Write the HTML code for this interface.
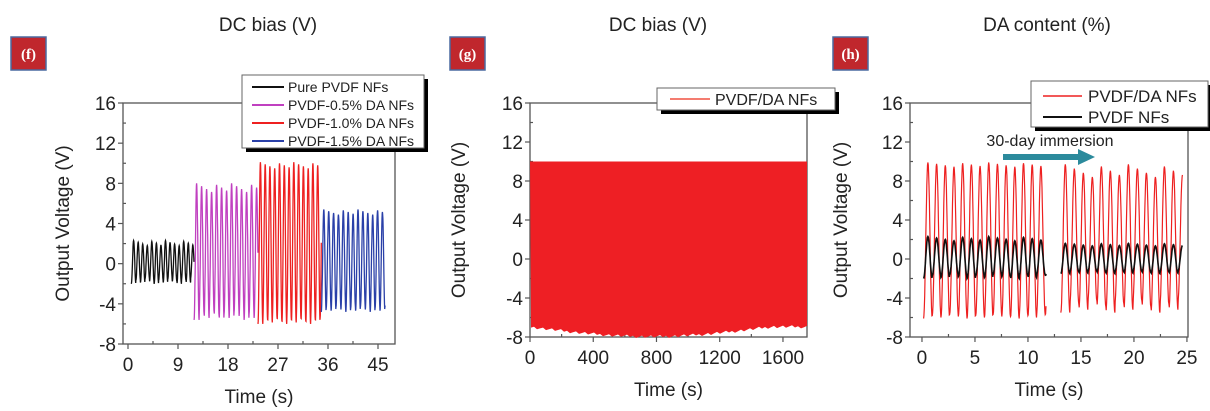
<!DOCTYPE html>
<html><head><meta charset="utf-8"><style>
html,body{margin:0;padding:0;background:#fff;}
svg{display:block;font-family:"Liberation Sans",Arial,sans-serif;}
.t{font-size:19px;fill:#222;}
.lab{font-family:"Liberation Serif",serif;font-weight:bold;font-size:15px;fill:#fff;}
</style></head><body>
<svg id="s" width="1210" height="411" viewBox="0 0 1210 411" xmlns="http://www.w3.org/2000/svg">
<text x="268" y="31" class="t" text-anchor="middle" font-size="21">DC bias (V)</text>
<text x="658" y="31" class="t" text-anchor="middle" font-size="21">DC bias (V)</text>
<text x="1047" y="31" class="t" text-anchor="middle" font-size="21">DA content (%)</text>
<rect x="0" y="0" width="1210" height="17" fill="#fff"/>
<rect x="11" y="37" width="35" height="33" fill="#c0272d" stroke="#4a6aa0" stroke-width="1.5"/>
<text x="28.5" y="59" class="lab" text-anchor="middle">(f)</text>
<rect x="450" y="37" width="35" height="33" fill="#c0272d" stroke="#4a6aa0" stroke-width="1.5"/>
<text x="467.5" y="59" class="lab" text-anchor="middle">(g)</text>
<rect x="833" y="37" width="35" height="33" fill="#c0272d" stroke="#4a6aa0" stroke-width="1.5"/>
<text x="850.5" y="59" class="lab" text-anchor="middle">(h)</text>
<g id="g"></g>
</svg>
<script>
var NS="http://www.w3.org/2000/svg",G=document.getElementById('g');
function el(t,a,txt){var e=document.createElementNS(NS,t);for(var k in a)e.setAttribute(k,a[k]);if(txt!=null)e.textContent=txt;G.appendChild(e);return e;}
function axes(x0,x1,y0,y1,xmin,xmax,xt,xminor,ycx){
  el('rect',{x:x0,y:y0,width:x1-x0,height:y1-y0,fill:'none',stroke:'#555','stroke-width':1.3});
  for(var v=-8;v<=16;v+=2){var y=y1-(v+8)/24*(y1-y0);var maj=v%4==0;
    el('line',{x1:x0-(maj?5:0),x2:x0+(maj?0:3),y1:y,y2:y,stroke:'#555','stroke-width':1.2});
    if(maj)el('text',{x:x0-7,y:y+7,'class':'t','text-anchor':'end'},v);}
  var X=function(t){return x0+(t-xmin)/(xmax-xmin)*(x1-x0);};
  for(var i=0;i<xt.length;i++){var x=X(xt[i]);el('line',{x1:x,x2:x,y1:y1,y2:y1+5,stroke:'#555','stroke-width':1.2});
    el('text',{x:x,y:y1+27,'class':'t','text-anchor':'middle'},xt[i]);}
  for(var i=0;i<xminor.length;i++){var x=X(xminor[i]);el('line',{x1:x,x2:x,y1:y1,y2:y1-3,stroke:'#555','stroke-width':1.2});}
  el('text',{x:(x0+x1)/2,y:y1+59,'class':'t','text-anchor':'middle','font-size':20},'Time (s)');
  el('text',{x:0,y:0,'class':'t','text-anchor':'middle','font-size':20,transform:'translate('+ycx+','+((y0+y1)/2)+') rotate(-90)'},'Output Voltage (V)');
  return X;}
function wave(X,Y,t0,t1,per,lo,hi,col,w,jit){
  var d='',n=0;for(var t=t0;t<=t1;t+=per/24){var p=(t-t0)/per*2*Math.PI;var c=Math.floor((t-t0)/per);
    var hj=hi-jit*((c*37)%7)/7, lj=lo+jit*((c*53)%5)/5;
    var s=-Math.cos(p);var v=(s+1)/2*(hj-lj)+lj;
    d+=(n++?'L':'M')+X(t).toFixed(1)+' '+Y(v).toFixed(1);}
  el('path',{d:d,fill:'none',stroke:col,'stroke-width':w});}
// Panel f
var Yf=function(v){return 344-(v+8)/24*241;};
var Xf=axes(123,395,103,344,-0.9,48.06,[0,9,18,27,36,45],[4.5,13.5,22.5,31.5,40.5],69);
wave(Xf,Yf,0.6,11.9,0.82,-2,2.3,'#111',1.3,0.6);
wave(Xf,Yf,11.9,23.4,0.9,-5.6,8,'#c040c0',1.3,1);
wave(Xf,Yf,23.4,34.8,0.86,-6,10.1,'#ee2020',1.3,0.7);
wave(Xf,Yf,34.8,46.3,0.88,-4.8,5.4,'#2a40a8',1.3,0.6);
el('rect',{x:246,y:79,width:182,height:73,fill:'#000'});
el('rect',{x:242,y:75,width:182,height:73,fill:'#fff',stroke:'#666'});
var L=[['Pure PVDF NFs','#111'],['PVDF-0.5% DA NFs','#c040c0'],['PVDF-1.0% DA NFs','#ee2020'],['PVDF-1.5% DA NFs','#2a40a8']];
for(var i=0;i<4;i++){var y=87+i*18;el('line',{x1:252,x2:284,y1:y,y2:y,stroke:L[i][1],'stroke-width':2});
  el('text',{x:288,y:y+5,'font-size':14,fill:'#222'},L[i][0]);}
// Panel g
var Yg=function(v){return 337-(v+8)/24*234;};
var Xg=axes(530,807,103,337,0,1752,[0,400,800,1200,1600],[200,600,1000,1400],465);
var d='M530 '+Yg(10)+' L807 '+Yg(10);
for(var x=807;x>=530;x-=3){var t=(x-530)/277;var base=-6.8-1.0*Math.sin(Math.PI*Math.min(1,t*1.15));var j=((x*17)%11)/11*0.35;d+=' L'+x+' '+Yg(base-j).toFixed(1);}
el('path',{d:d+'Z',fill:'#ee1f24'});
el('rect',{x:661,y:92,width:178,height:22,fill:'#000'});
el('rect',{x:657,y:88,width:178,height:22,fill:'#fff',stroke:'#666'});
el('line',{x1:670,x2:710,y1:99,y2:99,stroke:'#f05040','stroke-width':1.5});
el('text',{x:715,y:105,'font-size':16,fill:'#222'},'PVDF/DA NFs');
// Panel h
var Yh=function(v){return 337-(v+8)/24*234;};
var Xh=axes(910,1188,103,337,-1.13,25.1,[0,5,10,15,20,25],[2.5,7.5,12.5,17.5,22.5],847);
wave(Xh,Yh,0.15,11.7,0.82,-6.1,9.9,'#ee2020',1.2,0.5);
wave(Xh,Yh,13.1,24.6,0.85,-5.5,9.7,'#ee2020',1.2,1.5);
wave(Xh,Yh,0.15,11.7,0.82,-2,2.3,'#111',1.6,0.5);
wave(Xh,Yh,13.1,24.6,0.85,-1.5,1.6,'#111',1.6,0.3);
el('text',{x:1050,y:146,'font-size':16,fill:'#222','text-anchor':'middle'},'30-day immersion');
el('rect',{x:1003,y:154,width:76,height:6,fill:'#2b8a9c'});
el('path',{d:'M1078 149 L1095 157 L1078 165Z',fill:'#2b8a9c'});
el('rect',{x:1035,y:85,width:177,height:46,fill:'#000'});
el('rect',{x:1031,y:81,width:177,height:46,fill:'#fff',stroke:'#666'});
el('line',{x1:1043,x2:1082,y1:96,y2:96,stroke:'#ee2020','stroke-width':1.5});
el('text',{x:1088,y:102,'font-size':17,fill:'#222'},'PVDF/DA NFs');
el('line',{x1:1043,x2:1082,y1:117,y2:117,stroke:'#111','stroke-width':2});
el('text',{x:1088,y:123,'font-size':17,fill:'#222'},'PVDF NFs');
</script>
</body></html>
